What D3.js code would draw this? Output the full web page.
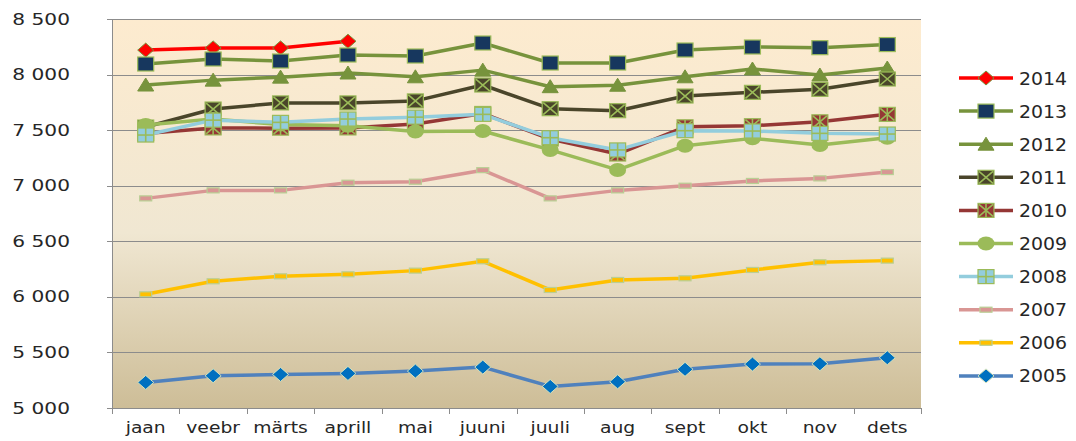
<!DOCTYPE html>
<html>
<head>
    <meta charset="utf-8">
    <title>Monthly chart 2005-2014</title>
    <script src="https://d3js.org/d3.v7.min.js"></script>
    <style>
        body { margin: 0; background: #fff; }
        .grid { stroke: #8c8c8c; stroke-width: 1px; }
        .tick-label { font-family: "DejaVu Sans", sans-serif; fill: #262626; }
    </style>
</head>
<body>
<script>
    var width = 1076, height = 441;

    // data
    var months = ["jaan", "veebr", "märts", "aprill", "mai", "juuni", "juuli", "aug", "sept", "okt", "nov", "dets"];
    var yTicks = [5000, 5500, 6000, 6500, 7000, 7500, 8000, 8500];

    var v2014 = [8220, 8240, 8240, 8300];
    var v2013 = [8095, 8140, 8122, 8176, 8167, 8284, 8104, 8104, 8221, 8248, 8242, 8270];
    var v2012 = [7906, 7950, 7977, 8014, 7980, 8040, 7891, 7904, 7980, 8050, 7996, 8059];
    var v2011 = [7528, 7690, 7745, 7745, 7763, 7906, 7693, 7675, 7807, 7840, 7867, 7960];
    var v2010 = [7470, 7520, 7518, 7520, 7555, 7650, 7420, 7285, 7530, 7540, 7575, 7642];
    var v2009 = [7546, 7600, 7550, 7540, 7488, 7492, 7322, 7142, 7360, 7426, 7366, 7432];
    var v2008 = [7456, 7590, 7570, 7600, 7617, 7642, 7432, 7322, 7495, 7492, 7471, 7465];
    var v2007 = [6886, 6958, 6958, 7027, 7036, 7140, 6886, 6958, 7000, 7043, 7066, 7123];
    var v2006 = [6023, 6140, 6185, 6203, 6236, 6320, 6062, 6152, 6167, 6242, 6311, 6326];
    var v2005 = [5230, 5290, 5302, 5311, 5332, 5368, 5194, 5236, 5348, 5395, 5398, 5452];

    var series = [
        {name: "2014", values: v2014, color: "#ff0000", marker: "diamond", fill: "#ff0000", edge: "#77933c"},
        {name: "2013", values: v2013, color: "#77933c", marker: "square", fill: "#17375e", edge: "#9bbb59"},
        {name: "2012", values: v2012, color: "#77933c", marker: "triangle", fill: "#77933c", edge: "#77933c"},
        {name: "2011", values: v2011, color: "#4a452a", marker: "squareX", fill: "#4a452a", edge: "#9bbb59"},
        {name: "2010", values: v2010, color: "#953735", marker: "squareStar", fill: "#953735", edge: "#9bbb59"},
        {name: "2009", values: v2009, color: "#9bbb59", marker: "circle", fill: "#9bbb59", edge: "#9bbb59"},
        {name: "2008", values: v2008, color: "#93cddd", marker: "squarePlus", fill: "#93cddd", edge: "#9bbb59"},
        {name: "2007", values: v2007, color: "#d99694", marker: "dash", fill: "#d99694", edge: "#b9cf94"},
        {name: "2006", values: v2006, color: "#ffc000", marker: "dash", fill: "#ffc000", edge: "#b9cf94"},
        {name: "2005", values: v2005, color: "#4f81bd", marker: "diamond", fill: "#0070c0", edge: "#d6e3bc"}
    ];

    var plot = {left: 112, right: 921, top: 19, bottom: 408};

    var svg = d3.select("body").append("svg")
        .attr("width", width)
        .attr("height", height);

    var defs = svg.append("defs");
    var grad = defs.append("linearGradient")
        .attr("id", "bg")
        .attr("x1", 0).attr("y1", 0).attr("x2", 0).attr("y2", 1);
    grad.append("stop").attr("offset", "0%").attr("stop-color", "#fdebcf");
    grad.append("stop").attr("offset", "55%").attr("stop-color", "#f0e7d2");
    grad.append("stop").attr("offset", "100%").attr("stop-color", "#cdbd97");

    var x = d3.scaleBand().domain(months).range([plot.left, plot.right]);
    var y = d3.scaleLinear().domain([5000, 8500]).range([plot.bottom, plot.top]);

    function cx(i) { return x(months[i]) + x.bandwidth() / 2; }

    svg.append("rect")
        .attr("x", plot.left).attr("y", plot.top)
        .attr("width", plot.right - plot.left)
        .attr("height", plot.bottom - plot.top)
        .attr("fill", "url(#bg)");

    // gridlines
    svg.append("g").selectAll("line")
        .data(yTicks.slice(1))
        .enter().append("line")
        .attr("class", "grid")
        .attr("x1", plot.left - 5).attr("x2", plot.right)
        .attr("y1", function(d) { return Math.round(y(d)) + 0.5; })
        .attr("y2", function(d) { return Math.round(y(d)) + 0.5; });

    // axis lines
    svg.append("line").attr("class", "grid")
        .attr("x1", plot.left + 0.5).attr("x2", plot.left + 0.5)
        .attr("y1", plot.top).attr("y2", plot.bottom);
    svg.append("line").attr("class", "grid")
        .attr("x1", plot.left - 5).attr("x2", plot.right)
        .attr("y1", plot.bottom + 0.5).attr("y2", plot.bottom + 0.5);

    // x tick marks between categories
    var bounds = months.map(function(m) { return x(m); }).concat([plot.right]);
    svg.append("g").selectAll("line")
        .data(bounds)
        .enter().append("line")
        .attr("class", "grid")
        .attr("x1", function(d) { return Math.round(d) + 0.5; })
        .attr("x2", function(d) { return Math.round(d) + 0.5; })
        .attr("y1", plot.bottom).attr("y2", plot.bottom + 6);

    // y labels
    var fmt = d3.formatLocale({decimal: ",", thousands: " ", grouping: [3], currency: ["", ""]}).format(",");
    svg.append("g").selectAll("text")
        .data(yTicks)
        .enter().append("text")
        .attr("class", "tick-label")
        .attr("transform", function(d) { return "translate(70," + (y(d) + 5.5) + ") scale(1.3,1)"; })
        .attr("text-anchor", "end")
        .style("font-size", "15.5px")
        .text(function(d) { return fmt(d); });

    // x labels
    svg.append("g").selectAll("text")
        .data(months)
        .enter().append("text")
        .attr("class", "tick-label")
        .attr("transform", function(d, i) { return "translate(" + cx(i) + ",433) scale(1.25,1)"; })
        .attr("text-anchor", "middle")
        .style("font-size", "15px")
        .text(function(d) { return d; });

    function marker(g, type, fill, edge) {
        if (type === "diamond") {
            g.append("path").attr("d", "M-8,0L0,-7L8,0L0,7Z")
                .attr("fill", fill).attr("stroke", edge).attr("stroke-width", 1);
        } else if (type === "triangle") {
            g.append("path").attr("d", "M-8,6L0,-7L8,6Z")
                .attr("fill", fill).attr("stroke", edge).attr("stroke-width", 1);
        } else if (type === "circle") {
            g.append("ellipse").attr("rx", 8.5).attr("ry", 7)
                .attr("fill", fill);
        } else if (type === "dash") {
            g.append("rect").attr("x", -6).attr("y", -2.5).attr("width", 12).attr("height", 5)
                .attr("fill", fill).attr("stroke", edge).attr("stroke-width", 1.2);
        } else {
            g.append("rect").attr("x", -8).attr("y", -7).attr("width", 16).attr("height", 14)
                .attr("fill", fill).attr("stroke", edge).attr("stroke-width", 1.2);
            if (type === "squareX" || type === "squareStar") {
                g.append("path").attr("d", "M-7,-6L7,6M-7,6L7,-6").attr("stroke", edge).attr("stroke-width", 1.6);
            }
            if (type === "squareStar" || type === "squarePlus") {
                g.append("path").attr("d", "M0,-7L0,7").attr("stroke", edge).attr("stroke-width", 1.6);
            }
            if (type === "squarePlus") {
                g.append("path").attr("d", "M-8,0L8,0").attr("stroke", edge).attr("stroke-width", 1.6);
            }
        }
    }

    var line = d3.line()
        .x(function(d, i) { return cx(i); })
        .y(function(d) { return y(d); });

    series.forEach(function(s) {
        var g = svg.append("g");
        g.append("path")
            .datum(s.values)
            .attr("d", line)
            .attr("fill", "none")
            .attr("stroke", s.color)
            .attr("stroke-width", 3.5)
            .attr("stroke-linejoin", "round");
        s.values.forEach(function(v, i) {
            var m = g.append("g").attr("transform", "translate(" + cx(i) + "," + y(v) + ")");
            marker(m, s.marker, s.fill, s.edge);
        });
    });

    // legend
    var legend = svg.append("g");
    series.forEach(function(s, i) {
        var ly = 78 + i * 33.1;
        var lg = legend.append("g").attr("transform", "translate(0," + ly + ")");
        lg.append("line")
            .attr("x1", 959).attr("x2", 1013)
            .attr("stroke", s.color).attr("stroke-width", 3.5);
        var m = lg.append("g").attr("transform", "translate(986,0)");
        marker(m, s.marker, s.fill, s.edge);
        lg.append("text")
            .attr("class", "tick-label")
            .attr("transform", "translate(1019,6.5) scale(1.08,1)")
            .style("font-size", "17.5px")
            .text(s.name);
    });
</script>
</body>
</html>
